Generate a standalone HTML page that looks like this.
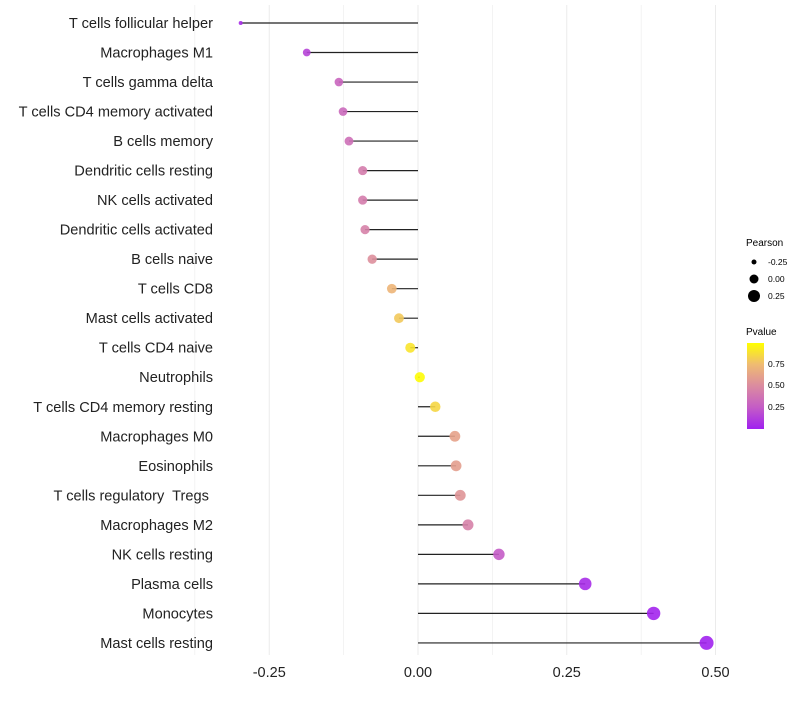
<!DOCTYPE html>
<html><head><meta charset="utf-8"><style>
body{margin:0;background:#fff;font-family:"Liberation Sans",sans-serif;}
svg text{font-family:"Liberation Sans",sans-serif;}
</style></head><body>
<svg id="c" width="800" height="700">
<defs><linearGradient id="pg" x1="0" y1="1" x2="0" y2="0">
<stop offset="0" stop-color="#a020f0"/><stop offset="0.25" stop-color="#c45cc6"/><stop offset="0.5" stop-color="#db8ba0"/><stop offset="0.75" stop-color="#efbb72"/><stop offset="1" stop-color="#ffff00"/></linearGradient></defs>
<g id="grid"></g><g id="marks"></g><g id="labels"></g>
<g>
<text x="746" y="246" font-size="10">Pearson</text>
<circle cx="754" cy="262" r="2.5" fill="#000"/><text x="768" y="265" font-size="8.5">-0.25</text>
<circle cx="754" cy="279" r="4.5" fill="#000"/><text x="768" y="282" font-size="8.5">0.00</text>
<circle cx="754" cy="296" r="6" fill="#000"/><text x="768" y="299" font-size="8.5">0.25</text>
<text x="746" y="335" font-size="10">Pvalue</text>
<rect x="747" y="343" width="17" height="86" fill="url(#pg)"/>
<text x="768" y="367" font-size="8.5">0.75</text>
<text x="768" y="388" font-size="8.5">0.50</text>
<text x="768" y="410" font-size="8.5">0.25</text>
</g>
</svg>
<script>
const cats=["T cells follicular helper","Macrophages M1","T cells gamma delta","T cells CD4 memory activated","B cells memory","Dendritic cells resting","NK cells activated","Dendritic cells activated","B cells naive","T cells CD8","Mast cells activated","T cells CD4 naive","Neutrophils","T cells CD4 memory resting","Macrophages M0","Eosinophils","T cells regulatory\u00a0 Tregs\u00a0","Macrophages M2","NK cells resting","Plasma cells","Monocytes","Mast cells resting"];
const pearson=[-0.298,-0.187,-0.133,-0.126,-0.116,-0.093,-0.093,-0.089,-0.077,-0.044,-0.032,-0.013,0.003,0.029,0.062,0.064,0.071,0.084,0.136,0.281,0.396,0.485];
const pvalue=[0.05,0.15,0.3,0.32,0.35,0.42,0.42,0.45,0.52,0.72,0.8,0.9,0.99,0.85,0.62,0.6,0.55,0.45,0.25,0.05,0.02,0.01];
const ticks=[-0.25,0,0.25,0.5];
const tickLabels=["-0.25","0.00","0.25","0.50"];
const NS="http://www.w3.org/2000/svg";
const x=v=>418+v*595;
const y=i=>23+i*29.52;
const rr=v=>2+5*Math.sqrt(Math.max(0,(v+0.298)/0.783));
const stops=[[0,[160,32,240]],[0.25,[196,92,198]],[0.5,[219,139,160]],[0.75,[239,187,114]],[1,[255,255,0]]];
function col(p){for(let i=0;i<stops.length-1;i++){const a=stops[i],b=stops[i+1];if(p<=b[0]){const t=(p-a[0])/(b[0]-a[0]);const c=a[1].map((v,k)=>Math.round(v+(b[1][k]-v)*t));return `rgb(${c})`;}}return "rgb(255,255,0)";}
function mk(t,at,par){const e=document.createElementNS(NS,t);for(const k in at)e.setAttribute(k,at[k]);document.getElementById(par).appendChild(e);return e;}
[-0.375,-0.125,0.125,0.375].concat(ticks).forEach(v=>{const g=mk("line",{x1:x(v),x2:x(v),y1:5,y2:655,stroke:"#ebebeb","stroke-width":ticks.includes(v)?1:0.6},"grid");

});
ticks.forEach((v,i)=>{const t=mk("text",{x:x(v),y:677,"font-size":14.5,"text-anchor":"middle",fill:"#222"},"labels");t.textContent=tickLabels[i];

});
cats.forEach((c,i)=>{const t=mk("text",{x:213,y:y(i)+5,"font-size":14.6,"text-anchor":"end",fill:"#222"},"labels");t.textContent=c;


const l=mk("line",{x1:x(0),x2:x(pearson[i]),y1:y(i),y2:y(i),stroke:"#222","stroke-width":1.2},"marks");


const p=mk("circle",{cx:x(pearson[i]),cy:y(i),r:rr(pearson[i]),fill:col(pvalue[i]),"fill-opacity":0.9},"marks");

});
</script>
</body></html>
